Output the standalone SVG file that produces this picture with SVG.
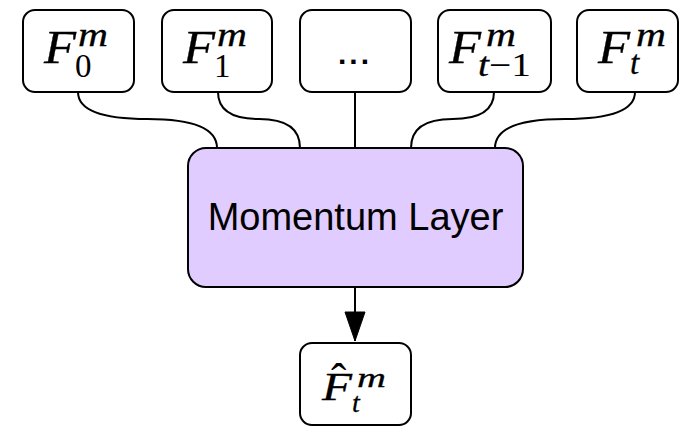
<svg xmlns="http://www.w3.org/2000/svg" width="680" height="426" viewBox="0 0 680 426">
<defs>
<style>
.box{fill:#fff;stroke:#000;stroke-width:2}
.layer{fill:#e1ccff;stroke:#000;stroke-width:2}
.edge{fill:none;stroke:#000;stroke-width:2}
.mi{font-family:"Liberation Serif","DejaVu Serif",serif;font-style:italic;stroke:#000;stroke-width:0.3}
.mn{font-family:"Liberation Serif","DejaVu Serif",serif;font-style:normal}
.base{font-size:46px}
.scr{font-size:33px}
.sans{font-family:"Liberation Sans",Arial,sans-serif}
</style>
<marker id="arr" markerUnits="userSpaceOnUse" markerWidth="32" markerHeight="22" refX="30" refY="11" orient="auto" viewBox="0 0 32 22">
<path d="M1,1 L30,11 L1,21 Z" fill="#000" stroke="#000" stroke-width="1"/>
</marker>
</defs>
<g id="connectors">
<path class="edge" d="M78,92 Q78,119 147.5,119 Q217,119 217,148"/>
<path class="edge" d="M218,92 Q218,119 259,119 Q300,119 300,148"/>
<path class="edge" d="M355,92 L355,148"/>
<path class="edge" d="M494,92 Q494,119 452.5,119 Q411,119 411,148"/>
<path class="edge" d="M635,92 Q635,119 565,119 Q495,119 495,148"/>
<path class="edge" d="M355,287 L355,341" marker-end="url(#arr)"/>
</g>
<g id="f0">
<rect class="box" x="23" y="10" width="111" height="82" rx="12"/>
<text class="mi base" x="44" y="63" textLength="32" lengthAdjust="spacingAndGlyphs">F</text>
<text class="mi scr" x="78" y="46" textLength="30" lengthAdjust="spacingAndGlyphs">m</text>
<text class="mn scr" x="75" y="77">0</text>
</g>
<g id="f1">
<rect class="box" x="162" y="10" width="110" height="82" rx="12"/>
<text class="mi base" x="183" y="63" textLength="32" lengthAdjust="spacingAndGlyphs">F</text>
<text class="mi scr" x="217" y="46" textLength="30" lengthAdjust="spacingAndGlyphs">m</text>
<text class="mn scr" x="214" y="77">1</text>
</g>
<g id="dots">
<rect class="box" x="300" y="10" width="111" height="82" rx="12"/>
<text class="sans" x="355" y="64" font-size="30" font-weight="bold" letter-spacing="3" text-anchor="middle">...</text>
</g>
<g id="ft1">
<rect class="box" x="438" y="10" width="113" height="82" rx="12"/>
<text class="mi base" x="449" y="63" textLength="32" lengthAdjust="spacingAndGlyphs">F</text>
<text class="mi scr" x="486" y="46" textLength="30" lengthAdjust="spacingAndGlyphs">m</text>
<text class="scr" x="478" y="76" textLength="53" lengthAdjust="spacingAndGlyphs"><tspan class="mi">t</tspan><tspan class="mn">−1</tspan></text>
</g>
<g id="ft">
<rect class="box" x="577" y="10" width="101" height="82" rx="12"/>
<text class="mi base" x="598" y="63" textLength="32" lengthAdjust="spacingAndGlyphs">F</text>
<text class="mi scr" x="636" y="46" textLength="30" lengthAdjust="spacingAndGlyphs">m</text>
<text class="mi scr" x="630" y="74">t</text>
</g>
<g id="layer">
<rect class="layer" x="188" y="148" width="335" height="139" rx="18"/>
<text class="sans" x="355.5" y="230" font-size="38" text-anchor="middle">Momentum Layer</text>
</g>
<g id="fhat">
<rect class="box" x="300" y="343" width="111" height="82" rx="12"/>
<text class="mi" x="322" y="400" font-size="39" textLength="30" lengthAdjust="spacingAndGlyphs">F</text>
<text class="mn" x="331" y="396" font-size="46">ˆ</text>
<text class="mi" x="357" y="387" font-size="28" textLength="29" lengthAdjust="spacingAndGlyphs">m</text>
<text class="mi" x="352" y="412" font-size="28">t</text>
</g>
</svg>
